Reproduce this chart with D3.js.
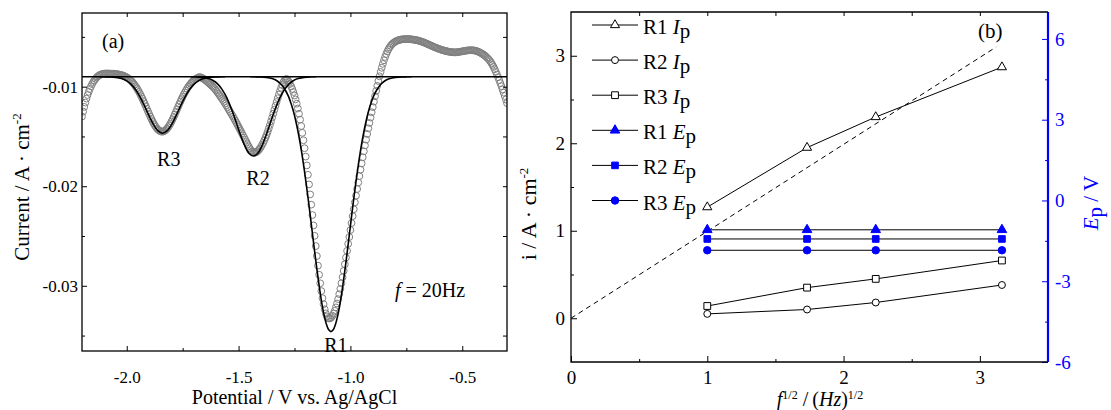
<!DOCTYPE html>
<html>
<head>
<meta charset="utf-8">
<script src="https://cdn.jsdelivr.net/npm/d3@7"></script>
<style>
body { margin: 0; background: #fff; }
svg { font-family: "Liberation Serif", "Times New Roman", serif; }
.axis path { display: none; }
.axis line { stroke: #000; stroke-width: 1; }
</style>
</head>
<body>
<script>
// ---- panel (a): SWV curve at f = 20 Hz, circles = measured, lines = fitted peaks
var expStart = -2.2, expStep = 0.005;   // potential grid, V
// current in mA cm-2 (axis shows A cm-2)
var expCurrent = [
  -13.0, -12.5, -12.03, -11.6, -11.2, -10.84, -10.52, -10.23, -9.97, -9.74,
  -9.54, -9.37, -9.22, -9.09, -8.98, -8.89, -8.82, -8.77, -8.73, -8.7,
  -8.69, -8.68, -8.68, -8.68,
  -8.68, -8.69, -8.69, -8.7, -8.7, -8.71, -8.72, -8.74, -8.75, -8.77,
  -8.8, -8.83, -8.86, -8.9, -8.95, -9.0, -9.06, -9.14, -9.22, -9.31,
  -9.42, -9.53, -9.67, -9.81, -9.97, -10.14, -10.33, -10.53, -10.74, -10.97,
  -11.2, -11.45, -11.7, -11.96, -12.22, -12.48, -12.74, -12.99, -13.23, -13.46,
  -13.68, -13.87, -14.04, -14.2, -14.32, -14.41, -14.48, -14.51, -14.52, -14.49,
  -14.43, -14.34, -14.22, -14.08, -13.91, -13.72, -13.5, -13.28, -13.04, -12.79,
  -12.53, -12.27, -12.01, -11.75, -11.5, -11.25, -11.02, -10.79, -10.58, -10.38,
  -10.19, -10.01, -9.86, -9.72, -9.59, -9.47, -9.37, -9.27, -9.2, -9.14,
  -9.07,
  -9.04, -9.06, -9.1, -9.16, -9.24, -9.32, -9.41, -9.5, -9.6, -9.7,
  -9.8, -9.9, -10.0, -10.12, -10.26, -10.4, -10.55, -10.7, -10.86, -11.02,
  -11.18, -11.34, -11.52, -11.7, -11.88, -12.06, -12.25, -12.44, -12.63, -12.82,
  -13.01, -13.21, -13.41, -13.62, -13.83, -14.04, -14.25, -14.46, -14.68, -14.9,
  -15.12, -15.34, -15.56, -15.78, -16.0, -16.2, -16.37, -16.5, -16.58, -16.62,
  -16.62, -16.57, -16.48, -16.36, -16.22, -16.05, -15.85, -15.63, -15.39, -15.13,
  -14.85, -14.54, -14.2, -13.85, -13.48, -13.1, -12.71, -12.32, -11.93, -11.54,
  -11.16, -10.79, -10.44, -10.11, -9.81, -9.56, -9.38, -9.27, -9.23,
  -9.35, -9.53, -9.73, -9.97, -10.23, -10.54, -10.89, -11.28, -11.71, -12.19,
  -12.72, -13.31, -13.95, -14.64, -15.38, -16.18, -17.02, -17.91, -18.85, -19.82,
  -20.82, -21.85, -22.89, -23.94, -24.98, -26.01, -27.01, -27.98, -28.89, -29.75,
  -30.53, -31.24, -31.85, -32.36, -32.77, -33.07, -33.24, -33.29,
  -33.26, -33.17, -33.01, -32.79, -32.51, -32.17, -31.78, -31.34, -30.84, -30.31,
  -29.74, -29.13, -28.5, -27.84, -27.17, -26.49, -25.79, -25.1, -24.4, -23.7,
  -23.0, -22.31, -21.62, -20.95, -20.28, -19.63, -18.98, -18.34, -17.71, -17.09,
  -16.49, -15.9, -15.32, -14.75, -14.19, -13.64, -13.1, -12.57,
  -12.05, -11.5, -10.96, -10.43, -9.92, -9.43, -8.96, -8.52, -8.1, -7.71,
  -7.35, -7.02, -6.72, -6.46, -6.24, -6.05, -5.89, -5.76, -5.65, -5.56,
  -5.48, -5.42, -5.37, -5.33, -5.3, -5.27, -5.25, -5.24, -5.23, -5.22,
  -5.22, -5.22, -5.22, -5.23, -5.24,
  -5.25, -5.27, -5.29, -5.31, -5.33, -5.35, -5.38, -5.41, -5.45, -5.49,
  -5.53, -5.57, -5.62, -5.67, -5.72, -5.77, -5.82, -5.87, -5.92, -5.97,
  -6.02, -6.07, -6.11, -6.16, -6.2, -6.24, -6.28, -6.32, -6.35, -6.38,
  -6.41, -6.44, -6.46, -6.49, -6.51, -6.52, -6.53, -6.54, -6.55, -6.55,
  -6.54, -6.53, -6.51, -6.49, -6.47, -6.45, -6.43, -6.41, -6.39, -6.37,
  -6.36, -6.35, -6.34, -6.34, -6.34, -6.35, -6.37, -6.4, -6.43, -6.47,
  -6.52, -6.58, -6.64, -6.71, -6.78, -6.86, -6.96, -7.07, -7.18, -7.3,
  -7.45, -7.62, -7.81, -8.02, -8.25, -8.5, -8.77, -9.05, -9.34, -9.64,
  -9.95, -10.27, -10.6, -10.94, -11.29, -11.65
];

var fitBase = [[-2.2, -9.0], [-0.3, -9.0]];
var fitR3 = [
  [-2.12, -9.0], [-2.10, -9.01], [-2.08, -9.02], [-2.06, -9.04], [-2.04, -9.1],
  [-2.02, -9.21], [-2.00, -9.42], [-1.98, -9.77], [-1.96, -10.31], [-1.94, -11.05],
  [-1.92, -11.96], [-1.90, -12.94], [-1.88, -13.82], [-1.86, -14.45], [-1.84, -14.68],
  [-1.82, -14.45], [-1.80, -13.82], [-1.78, -12.94], [-1.76, -11.96], [-1.74, -11.05],
  [-1.72, -10.31], [-1.70, -9.77], [-1.68, -9.42], [-1.66, -9.21], [-1.64, -9.1],
  [-1.62, -9.04], [-1.60, -9.02], [-1.58, -9.01], [-1.56, -9.0]
];
var fitR2 = [
  [-1.714, -9.0], [-1.694, -9.01], [-1.674, -9.04], [-1.654, -9.09], [-1.634, -9.19],
  [-1.614, -9.38], [-1.594, -9.72], [-1.574, -10.27], [-1.554, -11.06], [-1.534, -12.12],
  [-1.514, -13.37], [-1.494, -14.69], [-1.474, -15.86], [-1.454, -16.68], [-1.434, -16.97],
  [-1.414, -16.68], [-1.394, -15.86], [-1.374, -14.69], [-1.354, -13.37], [-1.334, -12.12],
  [-1.314, -11.06], [-1.294, -10.27], [-1.274, -9.72], [-1.254, -9.38], [-1.234, -9.19],
  [-1.214, -9.09], [-1.194, -9.04], [-1.174, -9.01], [-1.154, -9.0]
];
var fitR1 = [
  [-1.447, -9.0], [-1.427, -9.01], [-1.407, -9.02], [-1.387, -9.04], [-1.367, -9.1],
  [-1.347, -9.21], [-1.327, -9.43], [-1.307, -9.83], [-1.287, -10.51], [-1.277, -10.98],
  [-1.267, -11.58], [-1.257, -12.3], [-1.247, -13.17], [-1.237, -14.2], [-1.227, -15.38],
  [-1.217, -16.73], [-1.207, -18.23], [-1.197, -19.86], [-1.187, -21.6], [-1.177, -23.42],
  [-1.167, -25.27], [-1.157, -27.09], [-1.147, -28.83], [-1.137, -30.44], [-1.127, -31.86],
  [-1.117, -33.02], [-1.107, -33.88], [-1.097, -34.42], [-1.087, -34.6], [-1.077, -34.42],
  [-1.067, -33.88], [-1.057, -33.02], [-1.047, -31.86], [-1.037, -30.44], [-1.027, -28.83],
  [-1.017, -27.09], [-1.007, -25.27], [-0.997, -23.42], [-0.987, -21.6], [-0.977, -19.86],
  [-0.967, -18.23], [-0.957, -16.73], [-0.947, -15.38], [-0.937, -14.2], [-0.927, -13.17],
  [-0.917, -12.3], [-0.907, -11.58], [-0.897, -10.98], [-0.887, -10.51], [-0.867, -9.83],
  [-0.847, -9.43], [-0.827, -9.21], [-0.807, -9.1], [-0.787, -9.04], [-0.767, -9.02],
  [-0.747, -9.01], [-0.727, -9.0]
];
var peakLabels = [["R3", -1.812, -17.95], ["R2", -1.413, -19.85], ["R1", -1.065, -36.62]];

// ---- panel (b): peak current and peak potential vs f^1/2
var sqrtF = [1, 1.732, 2.236, 3.162];
var ipR1 = [1.27, 1.95, 2.30, 2.87];
var ipR2 = [0.05, 0.10, 0.18, 0.38];
var ipR3 = [0.14, 0.35, 0.45, 0.66];
var epR1 = [-1.09, -1.09, -1.09, -1.09];
var epR2 = [-1.43, -1.43, -1.43, -1.43];
var epR3 = [-1.85, -1.85, -1.85, -1.85];
var dashX = [0, 3.12], dashY = [0, 3.10];
var legendNames = ["R1", "R2", "R3", "R1", "R2", "R3"];
var legendVars = ["I", "I", "I", "E", "E", "E"];

var blue = "#0000ff";
var serif = "'Liberation Serif', 'Times New Roman', serif";

var svg = d3.select("body").append("svg")
	.attr("width", 1111)
	.attr("height", 410);

// ================= panel (a) =================
var a = {left: 82, right: 507, top: 13, bottom: 351};

var xA = d3.scaleLinear().domain([-2.2, -0.3]).range([a.left, a.right]);
var yA = d3.scaleLinear().domain([-36.55, -2.6]).range([a.bottom, a.top]);

svg.append("clipPath").attr("id", "clipA")
	.append("rect")
	.attr("x", a.left).attr("y", a.top)
	.attr("width", a.right - a.left).attr("height", a.bottom - a.top);

var gA = svg.append("g").attr("clip-path", "url(#clipA)");

var expData = expCurrent.map((c, i) => [expStart + i * expStep, c]);

gA.append("g").selectAll("circle")
	.data(expData)
	.enter().append("circle")
	.attr("cx", d => xA(d[0]))
	.attr("cy", d => yA(d[1]))
	.attr("r", 3.4)
	.attr("fill", "none")
	.attr("stroke", "#808080")
	.attr("stroke-width", 1);

var lineA = d3.line()
	.x(d => xA(d[0]))
	.y(d => yA(d[1]))
	.curve(d3.curveCatmullRom);

[fitBase, fitR3, fitR2, fitR1].forEach(function(f) {
	gA.append("path")
		.datum(f)
		.attr("fill", "none")
		.attr("stroke", "#000")
		.attr("stroke-width", 1.6)
		.attr("d", lineA);
});

// axes (ticks inside)
svg.append("g").attr("class", "axis").style("font-size", "17px")
	.attr("transform", "translate(0," + a.bottom + ")")
	.call(d3.axisBottom(xA).tickValues([-2.0, -1.5, -1.0, -0.5])
		.tickSizeInner(-5).tickSizeOuter(0).tickPadding(20)
		.tickFormat(d => d.toFixed(1)));
svg.append("g").attr("class", "axis")
	.attr("transform", "translate(0," + a.bottom + ")")
	.call(d3.axisBottom(xA).tickValues([-1.75, -1.25, -0.75]).tickSize(-3).tickFormat(""));
svg.append("g").attr("class", "axis")
	.attr("transform", "translate(0," + a.top + ")")
	.call(d3.axisTop(xA).tickValues([-2.0, -1.75, -1.5, -1.25, -1.0, -0.75, -0.5]).tickSize(-4).tickFormat(""));

svg.append("g").attr("class", "axis").style("font-size", "17px")
	.attr("transform", "translate(" + a.left + ",0)")
	.call(d3.axisLeft(yA).tickValues([-10, -20, -30])
		.tickSizeInner(-5).tickSizeOuter(0).tickPadding(4)
		.tickFormat(d => (d / 1000).toFixed(2)));
svg.append("g").attr("class", "axis")
	.attr("transform", "translate(" + a.left + ",0)")
	.call(d3.axisLeft(yA).tickValues([-5, -15, -25, -35]).tickSize(-3).tickFormat(""));
svg.append("g").attr("class", "axis")
	.attr("transform", "translate(" + a.right + ",0)")
	.call(d3.axisRight(yA).tickValues([-5, -10, -15, -20, -25, -30, -35]).tickSize(-4).tickFormat(""));

svg.append("rect")
	.attr("x", a.left).attr("y", a.top)
	.attr("width", a.right - a.left).attr("height", a.bottom - a.top)
	.attr("fill", "none").attr("stroke", "#000").attr("stroke-width", 1.3);

// labels
svg.append("text").attr("x", 102).attr("y", 48).style("font-size", "20px").text("(a)");

svg.selectAll(".peak")
	.data(peakLabels)
	.enter().append("text")
	.attr("class", "peak")
	.attr("x", d => xA(d[1]))
	.attr("y", d => yA(d[2]))
	.attr("text-anchor", "middle")
	.style("font-size", "20px")
	.text(d => d[0]);

var fText = svg.append("text").attr("x", 395).attr("y", 297).style("font-size", "20px");
fText.append("tspan").style("font-style", "italic").text("f");
fText.append("tspan").text(" = 20Hz");

svg.append("text")
	.attr("x", (a.left + a.right) / 2).attr("y", 404)
	.attr("text-anchor", "middle").style("font-size", "20px")
	.text("Potential / V vs. Ag/AgCl");

var yTitleA = svg.append("text")
	.attr("transform", "translate(29," + ((a.top + a.bottom) / 2 + 5) + ") rotate(-90)")
	.attr("text-anchor", "middle").style("font-size", "21px");
yTitleA.append("tspan").text("Current / A \u00b7 cm");
yTitleA.append("tspan").attr("dy", -8).style("font-size", "13px").text("-2");

// ================= panel (b) =================
var b = {left: 571, right: 1048, top: 12, bottom: 362};

var xB = d3.scaleLinear().domain([0, 3.5]).range([b.left, b.right]);
var yB = d3.scaleLinear().domain([-0.5, 3.5]).range([b.bottom, b.top]);
var yE = d3.scaleLinear().domain([-6, 7]).range([b.bottom, b.top]);

svg.append("g").attr("class", "axis").style("font-size", "19px")
	.attr("transform", "translate(0," + b.bottom + ")")
	.call(d3.axisBottom(xB).tickValues([0, 1, 2, 3])
		.tickSizeInner(-6).tickSizeOuter(0).tickPadding(9).tickFormat(d3.format("d")));
svg.append("g").attr("class", "axis")
	.attr("transform", "translate(0," + b.bottom + ")")
	.call(d3.axisBottom(xB).tickValues([0.5, 1.5, 2.5]).tickSize(-3).tickFormat(""));
svg.append("g").attr("class", "axis")
	.attr("transform", "translate(0," + b.top + ")")
	.call(d3.axisTop(xB).tickValues([0.5, 1, 1.5, 2, 2.5, 3]).tickSize(-4).tickFormat(""));

svg.append("g").attr("class", "axis").style("font-size", "19px")
	.attr("transform", "translate(" + b.left + ",0)")
	.call(d3.axisLeft(yB).tickValues([0, 1, 2, 3])
		.tickSizeInner(-6).tickSizeOuter(0).tickPadding(6).tickFormat(d3.format("d")));
svg.append("g").attr("class", "axis")
	.attr("transform", "translate(" + b.left + ",0)")
	.call(d3.axisLeft(yB).tickValues([0.5, 1.5, 2.5]).tickSize(-3).tickFormat(""));

var eAxis = svg.append("g").attr("class", "axis").style("font-size", "19px")
	.attr("transform", "translate(" + b.right + ",0)")
	.call(d3.axisRight(yE).tickValues([-6, -3, 0, 3, 6])
		.tickSizeInner(-6).tickSizeOuter(0).tickPadding(7).tickFormat(d => d < 0 ? "-" + (-d) : d));
var eMinor = svg.append("g").attr("class", "axis")
	.attr("transform", "translate(" + b.right + ",0)")
	.call(d3.axisRight(yE).tickValues([-4.5, -1.5, 1.5, 4.5]).tickSize(-3).tickFormat(""));
eAxis.selectAll("text").style("fill", blue);
eAxis.selectAll("line").style("stroke", blue);
eMinor.selectAll("line").style("stroke", blue);

svg.selectAll(".axis").style("font-family", serif);

// frame: black on three sides, blue right axis
svg.append("path")
	.attr("d", "M" + b.right + "," + b.top + "H" + b.left + "V" + b.bottom + "H" + b.right)
	.attr("fill", "none").attr("stroke", "#000").attr("stroke-width", 1.3);
svg.append("line")
	.attr("x1", b.right).attr("x2", b.right).attr("y1", b.top).attr("y2", b.bottom)
	.attr("stroke", blue).attr("stroke-width", 2.2);

// dashed fit line
svg.append("path")
	.datum(dashX.map((x, i) => [x, dashY[i]]))
	.attr("fill", "none").attr("stroke", "#000").attr("stroke-width", 1)
	.attr("stroke-dasharray", "5,4")
	.attr("d", d3.line().x(d => xB(d[0])).y(d => yB(d[1])));

var markers = [
	{ys: ipR1, scale: yB, type: d3.symbolTriangle, size: 36, fill: "#fff", stroke: "#000"},
	{ys: ipR2, scale: yB, type: d3.symbolCircle, size: 38, fill: "#fff", stroke: "#000"},
	{ys: ipR3, scale: yB, type: d3.symbolSquare, size: 46, fill: "#fff", stroke: "#000"},
	{ys: epR1, scale: yE, type: d3.symbolTriangle, size: 40, fill: blue, stroke: blue},
	{ys: epR2, scale: yE, type: d3.symbolSquare, size: 44, fill: blue, stroke: blue},
	{ys: epR3, scale: yE, type: d3.symbolCircle, size: 44, fill: blue, stroke: blue}
];

markers.forEach(function(m) {
	var pts = sqrtF.map((x, i) => [x, m.ys[i]]);
	svg.append("path")
		.datum(pts)
		.attr("fill", "none").attr("stroke", "#000").attr("stroke-width", 1)
		.attr("d", d3.line().x(d => xB(d[0])).y(d => m.scale(d[1])));
	svg.append("g").selectAll("path")
		.data(pts)
		.enter().append("path")
		.attr("transform", d => "translate(" + xB(d[0]) + "," + m.scale(d[1]) + ")")
		.attr("d", d3.symbol().type(m.type).size(m.size))
		.attr("fill", m.fill).attr("stroke", m.stroke).attr("stroke-width", 1);
});

// legend
var leg = svg.append("g").attr("transform", "translate(592,25)");
markers.forEach(function(m, i) {
	var row = leg.append("g").attr("transform", "translate(0," + (i * 35.1) + ")");
	row.append("line").attr("x1", 0).attr("x2", 46).attr("stroke", "#000").attr("stroke-width", 1);
	row.append("path")
		.attr("transform", "translate(23,0)")
		.attr("d", d3.symbol().type(m.type).size(m.size))
		.attr("fill", m.fill).attr("stroke", m.stroke).attr("stroke-width", 1);
	var t = row.append("text").attr("x", 51).attr("y", 9).style("font-size", "21px");
	t.append("tspan").text(legendNames[i] + " ");
	t.append("tspan").style("font-style", "italic").text(legendVars[i]);
	t.append("tspan").attr("dy", 4).text("p");
});

svg.append("text").attr("x", 978).attr("y", 38).style("font-size", "21px").text("(b)");

var xTitleB = svg.append("text")
	.attr("x", 820).attr("y", 406)
	.attr("text-anchor", "middle").style("font-size", "20px");
xTitleB.append("tspan").style("font-style", "italic").text("f");
xTitleB.append("tspan").attr("dy", -7).style("font-size", "12px").text("1/2");
xTitleB.append("tspan").attr("dy", 7).text(" /\u2009(");
xTitleB.append("tspan").style("font-style", "italic").text("Hz");
xTitleB.append("tspan").text(")");
xTitleB.append("tspan").attr("dy", -7).style("font-size", "12px").text("1/2");

var yTitleB = svg.append("text")
	.attr("transform", "translate(536,214) rotate(-90)")
	.attr("text-anchor", "middle").style("font-size", "22px");
yTitleB.append("tspan").text("i / A \u00b7 cm");
yTitleB.append("tspan").attr("dy", -8).style("font-size", "13px").text("-2");

var eTitle = svg.append("text")
	.attr("transform", "translate(1098,203) rotate(-90)")
	.attr("text-anchor", "middle").style("font-size", "21px").style("fill", blue);
eTitle.append("tspan").style("font-style", "italic").text("E");
eTitle.append("tspan").attr("dy", 4).text("p");
eTitle.append("tspan").attr("dy", -4).text(" / V");
</script>
</body>
</html>
